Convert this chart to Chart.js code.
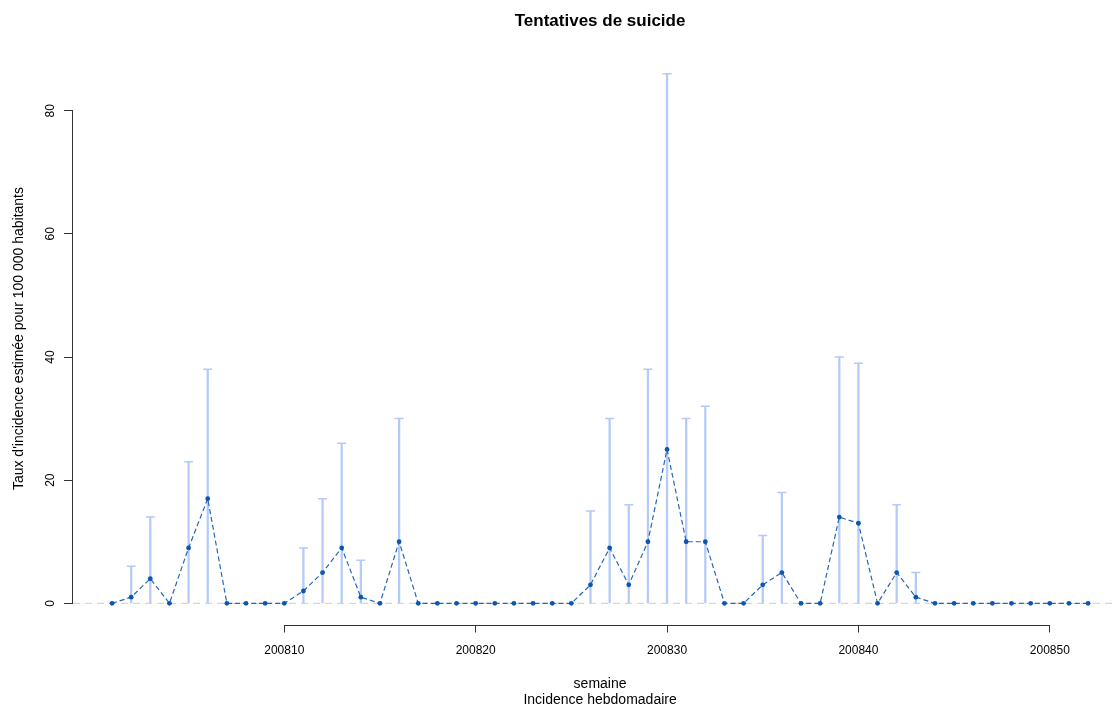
<!DOCTYPE html>
<html lang="fr">
<head>
<meta charset="utf-8">
<title>Tentatives de suicide</title>
<script src="https://cdn.jsdelivr.net/npm/chart.js@4.4.1/dist/chart.umd.min.js"></script>
<style>
    html, body { margin: 0; padding: 0; background: #fff; }
    canvas { display: block; }
</style>
</head>
<body>
<canvas id="graphique" width="1112" height="706"></canvas>
<script>
// --- DONNÉES ---
const semaines = [
    200801, 200802, 200803, 200804, 200805, 200806, 200807, 200808, 200809, 200810,
    200811, 200812, 200813, 200814, 200815, 200816, 200817, 200818, 200819, 200820,
    200821, 200822, 200823, 200824, 200825, 200826, 200827, 200828, 200829, 200830,
    200831, 200832, 200833, 200834, 200835, 200836, 200837, 200838, 200839, 200840,
    200841, 200842, 200843, 200844, 200845, 200846, 200847, 200848, 200849, 200850,
    200851, 200852
];

// taux d'incidence estimé
const incidence = [
    0, 1, 4, 0, 9, 17, 0, 0, 0, 0,
    2, 5, 9, 1, 0, 10, 0, 0, 0, 0,
    0, 0, 0, 0, 0, 3, 9, 3, 10, 25,
    10, 10, 0, 0, 3, 5, 0, 0, 14, 13,
    0, 5, 1, 0, 0, 0, 0, 0, 0, 0,
    0, 0
];

// borne supérieure de l'intervalle de confiance
const borneSup = [
    null, 6, 14, null, 23, 38, null, null, null, null,
    9, 17, 26, 7, null, 30, null, null, null, null,
    null, null, null, null, null, 15, 30, 16, 38, 86,
    30, 32, null, null, 11, 18, null, null, 40, 39,
    null, 16, 5, null, null, null, null, null, null, null,
    null, null
];

const ticksX = [200810, 200820, 200830, 200840, 200850];
const ticksY = [0, 20, 40, 60, 80];

// étendue des axes à la manière de R (+4 %) ; le bord droit est rogné par l'image
const xMin = 200798.96;
const xMaxR = 200854.04;
const xMax = 200853.25;
const yMin = -3.44;
const yMax = 89.44;

const POLICE = "'Liberation Sans', Arial, sans-serif";
Chart.defaults.font.family = POLICE;
Chart.defaults.color = "#000";

// --- ICs ---
const barres = [];
const chapeaux = [];
semaines.forEach((s, i) => {
    if (borneSup[i] !== null) {
        barres.push({ x: s, y: [0, borneSup[i]] });
        chapeaux.push({ x: s, y: borneSup[i] });
    }
});

// axes dessinés comme dans R (segments limités aux graduations) + titres
const axesR = {
    id: "axesR",
    afterDraw(chart) {
        const { ctx, chartArea, scales: { x, y } } = chart;
        ctx.save();
        ctx.strokeStyle = "#333";
        ctx.lineWidth = 1;

        // axe y
        const ax = Math.round(chartArea.left) - 0.5;
        ctx.beginPath();
        ctx.moveTo(ax, y.getPixelForValue(ticksY[0]));
        ctx.lineTo(ax, y.getPixelForValue(ticksY[ticksY.length - 1]));
        ctx.stroke();

        // axe x
        const ay = Math.round(chartArea.bottom) + 0.5;
        ctx.beginPath();
        ctx.moveTo(x.getPixelForValue(ticksX[0]), ay);
        ctx.lineTo(x.getPixelForValue(ticksX[ticksX.length - 1]), ay);
        ctx.stroke();

        // étiquettes y (verticales)
        ctx.fillStyle = "#000";
        ctx.font = "12px " + POLICE;
        ctx.textAlign = "center";
        ctx.textBaseline = "middle";
        ticksY.forEach(v => {
            ctx.save();
            ctx.translate(chartArea.left - 22, y.getPixelForValue(v));
            ctx.rotate(-Math.PI / 2);
            ctx.fillText(String(v), 0, 0);
            ctx.restore();
        });

        // centre de la zone de tracé R
        const centre = (chartArea.left + x.getPixelForValue(xMaxR)) / 2;

        // titres de l'axe x
        ctx.font = "14px " + POLICE;
        ctx.fillText("semaine", centre, 684);
        ctx.fillText("Incidence hebdomadaire", centre, 700);

        // titre principal
        ctx.font = "bold 17px " + POLICE;
        ctx.fillText("Tentatives de suicide", centre, 21);
        ctx.restore();
    }
};

new Chart(document.getElementById("graphique"), {
    type: "line",
    data: {
        datasets: [
            {
                type: "line",
                data: semaines.map((s, i) => ({ x: s, y: incidence[i] })),
                borderColor: "#2466bd",
                borderWidth: 1.2,
                borderDash: [5, 3],
                pointRadius: 2.4,
                pointBackgroundColor: "#0b56b0",
                pointBorderWidth: 0,
                tension: 0,
                order: 0
            },
            {
                type: "line",
                data: chapeaux,
                showLine: false,
                pointStyle: "line",
                pointRadius: 4.5,
                pointBorderColor: "#b3cbf6",
                pointBorderWidth: 1.5,
                order: 1
            },
            {
                type: "bar",
                data: barres,
                backgroundColor: "#b3cbf6",
                barThickness: 1.6,
                grouped: false,
                order: 2
            },
            {
                type: "line",
                data: [{ x: xMin, y: 0 }, { x: xMax, y: 0 }],
                borderColor: "#cccccc",
                borderWidth: 1,
                borderDash: [7, 5],
                pointRadius: 0,
                order: 3
            }
        ]
    },
    options: {
        responsive: false,
        animation: false,
        layout: { autoPadding: false, padding: { left: 0, right: 0, top: 52.6, bottom: 0 } },
        plugins: {
            legend: { display: false },
            tooltip: { enabled: false },
            title: { display: false }
        },
        scales: {
            x: {
                type: "linear",
                min: xMin,
                max: xMax,
                offset: false,
                afterBuildTicks: s => { s.ticks = ticksX.map(v => ({ value: v })); },
                afterFit: s => { s.height = 81.5; s.paddingLeft = 0; s.paddingRight = 0; },
                ticks: {
                    font: { size: 12 },
                    padding: 11,
                    maxRotation: 0,
                    callback: v => String(v)
                },
                grid: {
                    offset: false,
                    drawOnChartArea: false,
                    tickLength: 8,
                    color: "#333"
                },
                border: { display: false }
            },
            y: {
                type: "linear",
                min: yMin,
                max: yMax,
                afterBuildTicks: s => { s.ticks = ticksY.map(v => ({ value: v })); },
                afterFit: s => { s.width = 73; },
                ticks: { display: false },
                grid: {
                    drawOnChartArea: false,
                    tickLength: 9,
                    color: "#333"
                },
                border: { display: false },
                title: {
                    display: true,
                    text: "Taux d'incidence estimée pour 100 000 habitants",
                    font: { size: 14 },
                    padding: { top: 10.6, bottom: 0 }
                }
            }
        }
    },
    plugins: [axesR]
});
</script>
</body>
</html>
